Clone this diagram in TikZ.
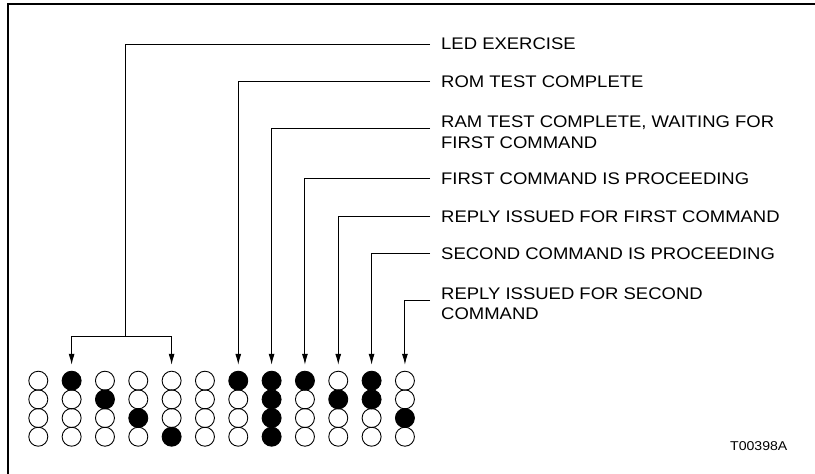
\documentclass[tikz,border=0pt]{standalone}
\usepackage{fontspec}
\setmainfont{Liberation Sans}[FakeStretch=1.1]
\usetikzlibrary{arrows.meta}

\begin{document}
\begin{tikzpicture}[x=1pt,y=-1pt,
    led/.style={draw,circle,minimum size=19pt,inner sep=0pt,line width=0.9pt},
    lbl/.style={anchor=north west,inner sep=0pt,align=left,font=\fontsize{16.8}{20.3}\selectfont},
    lead/.style={->,line width=0.9pt,shorten >=6pt},
    >={Latex[length=11pt,width=6pt]}]
    \useasboundingbox (0,0) rectangle (815,474);
    \draw[line width=1.5pt] (8,474) |- (815,4);
    % leds, four per column
    \foreach \c in {0,...,11}
      \foreach \r in {0,...,3}
        \node[led] (l\c-\r) at (38.3+33.33*\c,380.7+18.67*\r) {};
    \foreach \c/\r in {1/0,2/1,3/2,4/3,6/0,7/0,7/1,7/2,7/3,8/0,9/1,10/0,10/1,11/2}
      \fill (l\c-\r) circle (9.5pt);
    % status texts
    \node[lbl] (exercise) at (441,38) {LED EXERCISE};
    \node[lbl] (rom) at (441,75.7) {ROM TEST COMPLETE};
    \node[lbl] (ram) at (441,116) {RAM TEST COMPLETE, WAITING FOR\\FIRST COMMAND};
    \node[lbl] (cmd1) at (441,172.3) {FIRST COMMAND IS PROCEEDING};
    \node[lbl] (reply1) at (441,210.7) {REPLY ISSUED FOR FIRST COMMAND};
    \node[lbl] (cmd2) at (441,247.3) {SECOND COMMAND IS PROCEEDING};
    \node[lbl] (reply2) at (441,287.5) {REPLY ISSUED FOR SECOND\\COMMAND};
    \node[anchor=west,inner sep=0pt,font=\fontsize{12.8}{15}\selectfont] (tag) at (730,446) {T00398A};
    % leader lines
    \coordinate (fork) at (125,336);
    \draw[line width=0.9pt] ([shift={(-11,6)}]exercise.north west) -| (fork);
    \draw[lead] (fork) -| (l1-0.north);
    \draw[lead] (fork) -| (l4-0.north);
    \draw[lead] ([shift={(-11,6)}]rom.north west) -| (l6-0.north);
    \draw[lead] ([shift={(-11,12.3)}]ram.north west) -| (l7-0.north);
    \draw[lead] ([shift={(-11,6)}]cmd1.north west) -| (l8-0.north);
    \draw[lead] ([shift={(-11,6)}]reply1.north west) -| (l9-0.north);
    \draw[lead] ([shift={(-11,6)}]cmd2.north west) -| (l10-0.north);
    \draw[lead] ([shift={(-11,12.5)}]reply2.north west) -| (l11-0.north);
\end{tikzpicture}
\end{document}
